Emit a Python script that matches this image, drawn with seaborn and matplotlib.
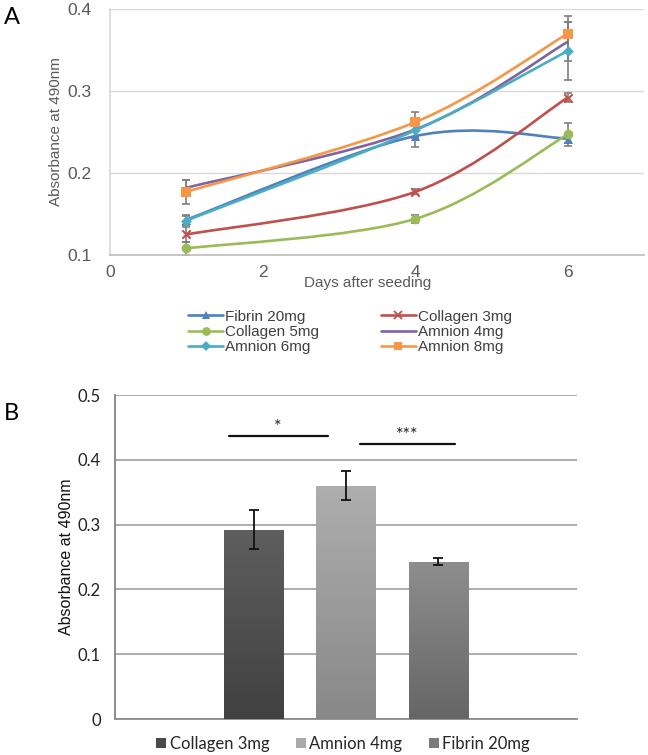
import numpy as np
import matplotlib
matplotlib.use("Agg")
import matplotlib.pyplot as plt
import seaborn as sns
from matplotlib.path import Path
from matplotlib.patches import PathPatch, Patch
from matplotlib.lines import Line2D

# ---- panel A data: absorbance over time ----
days = [1, 4, 6]
series_names = ["Fibrin 20mg", "Collagen 3mg", "Collagen 5mg",
                "Amnion 4mg", "Amnion 6mg", "Amnion 8mg"]
fibrin_20 = [0.143, 0.245, 0.242]
collagen_3 = [0.125, 0.177, 0.292]
collagen_5 = [0.108, 0.144, 0.247]
amnion_4 = [0.182, 0.253, 0.360]
amnion_6 = [0.142, 0.252, 0.349]
amnion_8 = [0.177, 0.262, 0.370]
fibrin_20_err = [0.006, 0.013, 0.006]
collagen_3_err = [0.009, 0.003, 0.006]
collagen_5_err = [0.008, 0.005, 0.014]
amnion_4_err = [0.010, 0.010, 0.024]
amnion_6_err = [0.006, 0.008, 0.035]
amnion_8_err = [0.015, 0.012, 0.022]

# ---- panel B data: day 6 comparison ----
bar_names = ["Collagen 3mg", "Amnion 4mg", "Fibrin 20mg"]
bar_values = [0.292, 0.360, 0.243]
bar_errs = [0.030, 0.022, 0.006]
sig_marks = ["*", "***"]
sig_pairs = [(-0.27, 0.80), (1.15, 2.18)]
sig_heights = [0.437, 0.4245]

colors_a = ["#4F81BD", "#C0504D", "#9BBB59", "#8064A2", "#4BACC6", "#F79646"]
markers_a = ["^", "x", "o", None, "D", "s"]
msizes = [6.5, 6, 7, 0, 5.5, 7]
bar_top = ["#5e5e5e", "#aeaeae", "#8e8e8e"]
bar_bot = ["#414141", "#888888", "#666666"]
bar_legend = ["#4a4a4a", "#a9a9a9", "#7a7a7a"]

sns.set_theme(style="white")
plt.rcParams["font.family"] = ["Liberation Sans", "DejaVu Sans"]


def smooth_path(xs, ys):
    # Excel-style smoothed line: cubic bezier through the points
    pts = np.column_stack([xs, ys]).astype(float)
    n = len(pts)
    verts = [pts[0]]
    codes = [Path.MOVETO]
    for i in range(n - 1):
        p0 = pts[i - 1] if i > 0 else pts[i]
        p1, p2 = pts[i], pts[i + 1]
        p3 = pts[i + 2] if i + 2 < n else pts[i + 1]
        verts += [p1 + (p2 - p0) / 6, p2 - (p3 - p1) / 6, p2]
        codes += [Path.CURVE4] * 3
    return Path(verts, codes)


fig = plt.figure(figsize=(6.48, 7.55), dpi=100)

# ================= Panel A =================
axA = fig.add_axes([110 / 648, 1 - 255 / 755, 534 / 648, 246 / 755])
all_y = [fibrin_20, collagen_3, collagen_5, amnion_4, amnion_6, amnion_8]
all_e = [fibrin_20_err, collagen_3_err, collagen_5_err, amnion_4_err, amnion_6_err, amnion_8_err]

handles = []
for name, ys, es, c, m, ms in zip(series_names, all_y, all_e, colors_a, markers_a, msizes):
    axA.errorbar(days, ys, yerr=es, fmt="none", ecolor="#7f7f7f", elinewidth=1.2,
                 capsize=3, capthick=1.2, zorder=2)
    axA.add_patch(PathPatch(smooth_path(days, ys), facecolor="none", edgecolor=c,
                            lw=1.9, zorder=3))
    if m is not None:
        sns.scatterplot(x=days, y=ys, marker=m, s=ms ** 2, color=c, ax=axA,
                        linewidth=1.5 if m == "x" else 0, edgecolor=c, zorder=4)
    handles.append(Line2D([], [], color=c, lw=1.9, marker=m, markersize=ms * 0.9,
                          markeredgewidth=1.3 if m == "x" else 0, label=name))

axA.set_xlim(0, 7)
axA.set_ylim(0.1, 0.4)
axA.set_xticks([0, 2, 4, 6])
axA.set_yticks([0.1, 0.2, 0.3, 0.4])
axA.set_yticklabels(["0.1", "0.2", "0.3", "0.4"])
axA.grid(axis="y", color="#d9d9d9", lw=1)
axA.grid(axis="x", visible=False)
for s in ["top", "right"]:
    axA.spines[s].set_visible(False)
axA.spines["left"].set_color("#d9d9d9")
axA.spines["bottom"].set_color("#bfbfbf")
axA.tick_params(axis="y", labelsize=12.5, colors="#595959", pad=13, length=0)
axA.tick_params(axis="x", labelsize=12.5, colors="#595959", pad=7, length=0)
axA.set_ylabel("Absorbance at 490nm", fontsize=11, color="#595959")
axA.yaxis.set_label_coords(-0.088, 0.5)
axA.set_xlabel("Days after seeding", fontsize=11, color="#595959", va="center")
axA.xaxis.set_label_coords((368 - 110) / 534, -(283 - 255) / 246)

# order legend rows like Excel: row-major in 2 columns
order = [0, 2, 4, 1, 3, 5]
fig.legend([handles[i] for i in order], [series_names[i] for i in order],
           loc="center", bbox_to_anchor=(350 / 648, 1 - 332 / 755), ncol=2,
           frameon=False, fontsize=11, handlelength=2.3, handletextpad=0.15,
           columnspacing=4.0, labelspacing=0.08, labelcolor="#404040")

fig.text(4 / 648, 1 - 18 / 755, "A", fontsize=17, family="Lato", va="center", color="black")

# ================= Panel B =================
axB = fig.add_axes([115 / 648, 1 - 719 / 755, 462 / 648, 324 / 755])
sns.barplot(x=bar_names, y=bar_values, hue=bar_names, palette=bar_legend,
            width=0.64, ax=axB, legend=False, zorder=3)
axB.errorbar(range(len(bar_names)), bar_values, yerr=bar_errs, fmt="none",
             ecolor="#111111", elinewidth=1.3, capsize=3.5, capthick=1.3, zorder=5)

# vertical gradient fill for each bar
for p, top, bot in zip(axB.patches, bar_top, bar_bot):
    x0, y0 = p.get_x(), p.get_y()
    w, h = p.get_width(), p.get_height()
    grad = np.linspace(0, 1, 100).reshape(-1, 1)
    cmap = matplotlib.colors.LinearSegmentedColormap.from_list("g", [bot, top])
    im = axB.imshow(grad, extent=[x0, x0 + w, y0, y0 + h], origin="lower",
                    aspect="auto", cmap=cmap, zorder=3)
    im.set_clip_path(p)
    p.set_facecolor("none")
    p.set_edgecolor("none")

for (xa, xb), yh, mark in zip(sig_pairs, sig_heights, sig_marks):
    axB.plot([xa, xb], [yh, yh], color="#111111", lw=1.6, zorder=5)
    axB.text((xa + xb) / 2, yh + 0.001, mark, ha="center", va="bottom",
             fontsize=13, family="Lato", color="#222222")

axB.set_xlim(-1.5, 3.5)
axB.set_ylim(0, 0.5)
axB.set_yticks([0, 0.1, 0.2, 0.3, 0.4, 0.5])
axB.set_yticklabels(["0", "0.1", "0.2", "0.3", "0.4", "0.5"])
axB.set_xticks([])
axB.grid(axis="y", color="#a6a6a6", lw=1.3, zorder=0)
axB.grid(axis="x", visible=False)
for s in ["top", "right"]:
    axB.spines[s].set_visible(False)
axB.spines["left"].set_color("#7f7f7f")
axB.spines["bottom"].set_color("#8c8c8c")
axB.spines["bottom"].set_linewidth(1.3)
axB.tick_params(axis="y", labelsize=12, pad=10, length=0, colors="#222222")
for lab in axB.get_yticklabels():
    lab.set_family("Lato")
axB.set_ylabel("Absorbance at 490nm", fontsize=11.5, color="#111111")
axB.yaxis.set_label_coords(-0.088, 0.5)
axB.set_xlabel("")

bh = [Patch(facecolor=c, edgecolor="none") for c in bar_legend]
fig.legend(bh, bar_names, loc="center", bbox_to_anchor=(343 / 648, 1 - 744 / 755),
           ncol=3, frameon=False, prop={"family": "Lato", "size": 12},
           handlelength=0.6, handleheight=0.6, handletextpad=0.2, columnspacing=1.6)

fig.text(4 / 648, 1 - 414 / 755, "B", fontsize=17, family="Lato", va="center", color="black")

fig.savefig("out.png", dpi=100)
